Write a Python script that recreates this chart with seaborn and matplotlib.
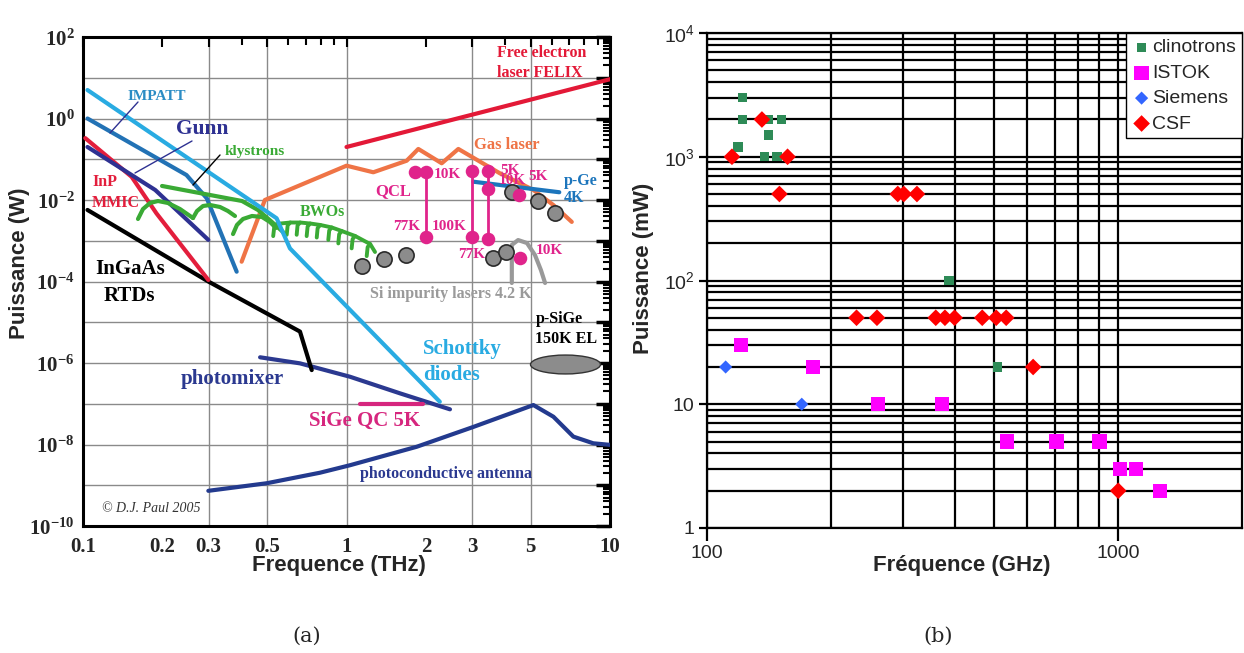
import numpy as np
import matplotlib
matplotlib.use("Agg")
import matplotlib.pyplot as plt
import seaborn as sns
from matplotlib.ticker import FixedLocator, LogLocator, NullFormatter, FuncFormatter
from matplotlib.path import Path
from matplotlib.markers import MarkerStyle

# ---------------- Panel (a): frequency (THz) / power (W) ----------------
schottky_f = [0.104, 0.543, 0.61, 2.26]
schottky_p = [5.0, 3.56e-3, 6.5e-4, 1.12e-7]
impatt_f = [0.104, 0.247, 0.295, 0.383]
impatt_p = [1.0, 0.041, 0.011, 1.74e-4]
gunn_f = [0.104, 0.188, 0.299]
gunn_p = [0.2, 0.0176, 1.05e-3]
inp_f = [0.102, 0.153, 0.19, 0.299]
inp_p = [0.33, 0.037, 4.7e-3, 1.09e-4]
rtd_f = [0.104, 0.299, 0.666, 0.738]
rtd_p = [5.7e-3, 1.0e-4, 5.9e-6, 6.7e-7]
kly_f = [0.1995, 0.2904, 0.4012, 0.4614, 0.5215, 0.5741]
kly_p = [0.0221, 0.0140, 9.45e-3, 5.69e-3, 2.88e-3, 1.64e-3]
kly_arc1_f = [0.1617, 0.1689, 0.1796, 0.1926, 0.2102, 0.2334, 0.2615]
kly_arc1_p = [3.42e-3, 6.0e-3, 8.44e-3, 9.45e-3, 8.44e-3, 6.0e-3, 3.61e-3]
kly_arc2_f = [0.2615, 0.2708, 0.2854, 0.3034, 0.3311, 0.3549, 0.3774]
kly_arc2_p = [3.61e-3, 5.37e-3, 7.12e-3, 7.54e-3, 6.73e-3, 5.37e-3, 4.05e-3]
kly_arc3_f = [0.371, 0.384, 0.4047, 0.4378, 0.4779, 0.5124, 0.5401]
kly_arc3_p = [1.46e-3, 2.44e-3, 3.42e-3, 4.05e-3, 3.83e-3, 2.88e-3, 2.06e-3]
bwo_foot_f = [0.527, 0.593, 0.647, 0.706, 0.771, 0.853, 0.931, 1.046, 1.193]
bwo_foot_p = [1.3e-3, 1.4e-3, 1.4e-3, 1.3e-3, 1.2e-3, 1.05e-3, 8.6e-4, 6.5e-4, 4.2e-4]
bwo_mid_f = [0.532, 0.598, 0.652, 0.712, 0.777, 0.860, 0.938, 1.055, 1.203]
bwo_mid_p = [2.2e-3, 2.4e-3, 2.4e-3, 2.25e-3, 2.05e-3, 1.8e-3, 1.45e-3, 1.1e-3, 7.0e-4]
bwo_top_f = [0.545, 0.612, 0.667, 0.728, 0.795, 0.879, 0.960, 1.078, 1.230]
bwo_top_p = [2.6e-3, 2.8e-3, 2.8e-3, 2.65e-3, 2.44e-3, 2.12e-3, 1.73e-3, 1.31e-3, 8.3e-4]
bwo_end_f = [1.283]
bwo_end_p = [5.3e-4]
felix_f = [1.0, 10.0]
felix_p = [0.2, 9.2]
gas_f = [0.40, 0.49, 1.0, 1.264, 1.692, 1.873, 2.298, 2.657, 3.82, 5.12, 6.1, 7.16]
gas_p = [3.06e-4, 0.01, 0.0695, 0.0479, 0.092, 0.179, 0.0796, 0.179, 0.0452, 0.0176, 7.5e-3, 2.9e-3]
pge_f = [3.03, 6.42]
pge_p = [0.0281, 0.0155]
qcl_f = [1.82, 2.0, 2.0, 2.99, 2.99, 3.45, 3.45, 3.45, 4.53, 4.54]
qcl_p = [0.048, 0.048, 1.26e-3, 0.052, 1.26e-3, 0.052, 0.0183, 1.09e-3, 0.0133, 3.84e-4]
qcl_bar_f = [2.0, 2.99, 3.45]
qcl_bar_hi = [0.048, 0.052, 0.052]
qcl_bar_lo = [1.26e-3, 1.26e-3, 1.09e-3]
si_f = [1.142, 1.388, 1.682, 3.61, 4.03, 4.24, 5.32, 6.18]
si_p = [2.44e-4, 3.5e-4, 4.47e-4, 3.7e-4, 5.2e-4, 0.016, 9.4e-3, 4.7e-3]
si_arc_f = [4.24, 4.24, 4.48, 4.84, 5.19, 5.47, 5.67]
si_arc_p = [9.2e-5, 7.9e-4, 1.04e-3, 8.8e-4, 4.47e-4, 1.9e-4, 9.2e-5]
psige_f = [6.75]
psige_p = [9.3e-7]
photomixer_f = [0.47, 0.666, 1.031, 1.596, 2.47]
photomixer_p = [1.38e-6, 9.8e-7, 4.6e-7, 1.8e-7, 7.3e-8]
sigeqc_f = [1.125, 1.957]
sigeqc_p = [1e-7, 1e-7]
antenna_f = [0.299, 0.498, 0.793, 1.031, 1.847, 3.03, 5.12, 6.1, 7.26, 8.64, 10.0]
antenna_p = [7.3e-10, 1.12e-9, 2.03e-9, 3.1e-9, 8.8e-9, 2.7e-8, 9.3e-8, 4.8e-8, 1.56e-8, 1.07e-8, 9.8e-9]

xticks_a = [0.1, 0.2, 0.3, 0.5, 1, 2, 3, 5, 10]
xtick_labels_a = ["0.1", "0.2", "0.3", "0.5", "1", "2", "3", "5", "10"]
xminor_a = [0.4, 0.6, 0.7, 0.8, 0.9, 4, 6, 7, 8, 9]
xgrid_a = [0.3, 0.5, 1, 3, 5]

# ---------------- Panel (b): frequency (GHz) / power (mW) ----------------
clin_f = [122, 122, 119, 141, 141, 152, 138, 148, 388, 509]
clin_p = [3000, 2000, 1200, 2000, 1500, 2000, 1000, 1000, 100, 20]
istok_f = [121, 181, 260, 373, 536, 708, 900, 1009, 1106, 1262]
istok_p = [30, 20, 10, 10, 5, 5, 5, 3, 3, 2]
siemens_f = [111, 170]
siemens_p = [20, 10]
csf_f = [115, 136, 157, 150, 291, 301, 324, 231, 259, 360, 379, 400, 467, 505, 534, 621, 1000]
csf_p = [1000, 2000, 1000, 500, 500, 500, 500, 50, 50, 50, 50, 50, 50, 50, 50, 20, 2]
legend_b = ["clinotrons", "ISTOK", "Siemens", "CSF"]
xticks_b = [100, 1000]
xgrid_b = [200, 300, 400, 500, 600, 700, 800, 900]

# ---------------- styling ----------------
sns.set_theme(style="white")
plt.rcParams["font.family"] = ["Liberation Sans", "DejaVu Sans"]
plt.rcParams["mathtext.fontset"] = "custom"
plt.rcParams["mathtext.rm"] = "Liberation Sans"
plt.rcParams["mathtext.bf"] = "Liberation Serif:bold"
plt.rcParams["mathtext.it"] = "Liberation Sans:italic"

W, H = 1244, 653
fig = plt.figure(figsize=(W / 100, H / 100), dpi=100)
fig.patch.set_facecolor("white")

axa = fig.add_axes([83 / W, (H - 526) / H, 527 / W, 489 / H])
axb = fig.add_axes([707 / W, (H - 528) / H, 535 / W, 495 / H])

SERIF = "Liberation Serif"
C_SCH = "#29abe2"
C_IMP = "#2272b5"
C_NAVY = "#2e3192"
C_RED = "#e31e3c"
C_GREEN = "#3aaa35"
C_GAS = "#ef7446"
C_MAG = "#e0248b"
C_PGE = "#1c75bc"

axa.set_xscale("log")
axa.set_yscale("log")
axa.set_xlim(0.1, 10)
axa.set_ylim(1e-10, 1e2)


def line(ax, f, p, color, lw=3.0, z=3):
    sns.lineplot(x=f, y=p, ax=ax, color=color, linewidth=lw, sort=False,
                 estimator=None, legend=False, zorder=z)


line(axa, antenna_f, antenna_p, "#233a8e")
line(axa, photomixer_f, photomixer_p, "#2b3990")
line(axa, sigeqc_f, sigeqc_p, "#d6267e")
line(axa, felix_f, felix_p, "#e31937")
line(axa, gas_f, gas_p, C_GAS)
line(axa, rtd_f, rtd_p, "black")
line(axa, inp_f, inp_p, C_RED)
line(axa, gunn_f, gunn_p, C_NAVY)
line(axa, impatt_f, impatt_p, C_IMP)
line(axa, kly_f, kly_p, C_GREEN)
for af, ap in [(kly_arc1_f, kly_arc1_p), (kly_arc2_f, kly_arc2_p), (kly_arc3_f, kly_arc3_p)]:
    line(axa, af, ap, C_GREEN)
next_f = bwo_top_f[1:] + bwo_end_f
next_p = bwo_top_p[1:] + bwo_end_p
for i in range(len(bwo_foot_f)):
    line(axa, [bwo_foot_f[i], bwo_mid_f[i], bwo_top_f[i], next_f[i]],
         [bwo_foot_p[i], bwo_mid_p[i], bwo_top_p[i], next_p[i]], C_GREEN, lw=2.8)
line(axa, schottky_f, schottky_p, C_SCH, z=3.5)
line(axa, pge_f, pge_p, C_PGE)
line(axa, si_arc_f, si_arc_p, "#999999", lw=3)

for bf, bh, bl in zip(qcl_bar_f, qcl_bar_hi, qcl_bar_lo):
    line(axa, [bf, bf], [bh, bl], C_MAG, lw=2, z=4)

sns.scatterplot(x=si_f, y=si_p, ax=axa, s=120, color="#8c8c8c",
                edgecolor="#2a2a2a", linewidth=1.2, zorder=5, legend=False)
sns.scatterplot(x=qcl_f, y=qcl_p, ax=axa, s=95, color=C_MAG,
                edgecolor=C_MAG, linewidth=0, zorder=6, legend=False)
circ = Path.unit_circle()
ell = Path(circ.vertices * np.array([1.0, 0.27]), circ.codes)
sns.scatterplot(x=psige_f, y=psige_p, ax=axa, s=2540, marker=MarkerStyle(ell),
                color="#8c8c8c", edgecolor="#333333", linewidth=1.0, zorder=5,
                legend=False)

for gx in xgrid_a:
    axa.axvline(gx, color="#8a8a8a", lw=1.0, zorder=0.5)
axa.yaxis.set_major_locator(LogLocator(base=10, numticks=30))
axa.yaxis.set_minor_locator(LogLocator(base=10, subs=np.arange(2, 10), numticks=30))
axa.yaxis.set_minor_formatter(NullFormatter())


def ylab_a(v, pos):
    e = int(round(np.log10(v)))
    if e % 2:
        return ""
    return r"$\mathbf{10^{%d}}$" % e


axa.yaxis.set_major_formatter(FuncFormatter(ylab_a))
axa.grid(axis="y", which="major", color="#8a8a8a", lw=1.0, zorder=0.5)
axa.grid(axis="x", which="both", visible=False)
axa.xaxis.set_major_locator(FixedLocator(xticks_a))
axa.xaxis.set_minor_locator(FixedLocator(xminor_a))
axa.xaxis.set_minor_formatter(NullFormatter())
axa.set_xticklabels(xtick_labels_a, fontfamily=SERIF, fontweight="bold", fontsize=15)
for t in axa.get_yticklabels():
    t.set_fontsize(15)
axa.tick_params(axis="both", which="both", direction="in", top=True, right=True,
                color="black")
axa.tick_params(axis="x", which="major", length=7, width=1.5, pad=8)
axa.tick_params(axis="x", which="minor", length=6, width=1.5)
axa.tick_params(axis="y", which="major", length=10, width=2.5, pad=6)
axa.tick_params(axis="y", which="minor", length=5, width=1.5)
for s in axa.spines.values():
    s.set_color("black")
    s.set_linewidth(2.2)
axa.set_xlabel("")
axa.set_ylabel("")


def ta(px, py, txt, color, size, ha="center", style="normal", weight="bold", family=SERIF):
    axa.text((px - 83) / 527, (526 - py) / 489, txt, transform=axa.transAxes,
             color=color, fontsize=size, ha=ha, va="center", fontfamily=family,
             fontweight=weight, fontstyle=style, zorder=8)


def pointer(x0, y0, x1, y1, color):
    axa.annotate("", xy=((x1 - 83) / 527, (526 - y1) / 489),
                 xytext=((x0 - 83) / 527, (526 - y0) / 489),
                 xycoords="axes fraction", textcoords="axes fraction",
                 arrowprops=dict(arrowstyle="-", color=color, lw=1.0, shrinkA=0, shrinkB=0),
                 zorder=7)


ta(157, 96, "IMPATT", "#2b8cc4", 11)
pointer(138, 102, 110, 133, C_NAVY)
ta(202, 129, "Gunn", C_NAVY, 15.5)
pointer(192, 141, 135, 173, C_NAVY)
ta(255, 152, "klystrons", C_GREEN, 11)
pointer(220, 155, 193, 185, "black")
ta(92, 182, "InP", C_RED, 11.5, ha="left")
ta(92, 203, "MMIC", C_RED, 11.5, ha="left")
ta(322, 212, "BWOs", C_GREEN, 11.5)
ta(130, 269, "InGaAs", "black", 15)
ta(129, 296, "RTDs", "black", 15)
ta(232, 379, "photomixer", "#2b3990", 15)
ta(423, 349, "Schottky", C_SCH, 15, ha="left")
ta(423, 375, "diodes", C_SCH, 15, ha="left")
ta(365, 421, "SiGe QC 5K", "#d6267e", 15)
ta(446, 474, "photoconductive antenna", "#2b3990", 11.5)
ta(151, 508, "\u00a9 D.J. Paul 2005", "#333333", 10, style="italic", weight="normal")
ta(497, 53, "Free electron", "#e31937", 11.5, ha="left")
ta(497, 73, "laser FELIX", "#e31937", 11.5, ha="left")
ta(507, 145, "Gas laser", C_GAS, 12)
ta(564, 181, "p-Ge", C_PGE, 11.5, ha="left")
ta(564, 198, "4K", C_PGE, 11.5, ha="left")
ta(393, 191, "QCL", C_MAG, 12)
for (px, py, t) in [(447, 174, "10K"), (407, 227, "77K"), (449, 226, "100K"),
                    (472, 254, "77K"), (510, 170, "5K"), (512, 181, "10K"),
                    (538, 176, "5K"), (549, 251, "10K")]:
    ta(px, py, t, C_MAG, 11)
ta(451, 294, "Si impurity lasers 4.2 K", "#9a9a9a", 11.5)
ta(559, 319, "p-SiGe", "black", 11.5)
ta(566, 339, "150K EL", "black", 11.5)

fig.text(20 / W, 1 - 263 / H, "Puissance (W)", rotation=90, ha="center", va="center",
         fontsize=16, fontweight="bold", fontfamily="Liberation Sans")
fig.text(339 / W, 1 - 566 / H, "Frequence (THz)", ha="center", va="center",
         fontsize=16, fontweight="bold", fontfamily="Liberation Sans")

# ---------------- Panel (b) ----------------
axb.set_xscale("log")
axb.set_yscale("log")
axb.set_xlim(100, 2000)
axb.set_ylim(1, 1e4)
sns.scatterplot(x=clin_f, y=clin_p, ax=axb, marker="s", s=45, color="#2e8b57",
                edgecolor="none", label=legend_b[0], zorder=4)
sns.scatterplot(x=istok_f, y=istok_p, ax=axb, marker="s", s=105, color="#ff00ff",
                edgecolor="none", label=legend_b[1], zorder=4)
sns.scatterplot(x=siemens_f, y=siemens_p, ax=axb, marker="D", s=45, color="#3366ff",
                edgecolor="none", label=legend_b[2], zorder=4)
sns.scatterplot(x=csf_f, y=csf_p, ax=axb, marker="D", s=72, color="#ff0000",
                edgecolor="none", label=legend_b[3], zorder=5)

axb.xaxis.set_major_locator(FixedLocator(xticks_b))
axb.xaxis.set_minor_locator(FixedLocator(xgrid_b))
axb.xaxis.set_minor_formatter(NullFormatter())
axb.set_xticklabels([str(v) for v in xticks_b], fontsize=14)
axb.yaxis.set_major_locator(LogLocator(base=10, numticks=10))
axb.yaxis.set_minor_locator(LogLocator(base=10, subs=np.arange(2, 10), numticks=20))
axb.yaxis.set_minor_formatter(NullFormatter())


def ylab_b(v, pos):
    e = int(round(np.log10(v)))
    if e == 0:
        return "1"
    if e == 1:
        return "10"
    return r"$\mathregular{10^{%d}}$" % e


axb.yaxis.set_major_formatter(FuncFormatter(ylab_b))
for t in axb.get_yticklabels():
    t.set_fontsize(14)
axb.grid(axis="both", which="both", color="black", lw=1.6, zorder=0.5)
axb.tick_params(axis="x", which="major", direction="out", length=9, width=1.6,
                color="black", pad=3, bottom=True)
axb.tick_params(axis="y", which="major", direction="out", length=6, width=1.6,
                color="black", pad=3, left=True)
axb.tick_params(axis="both", which="minor", length=0)
for s in axb.spines.values():
    s.set_color("black")
    s.set_linewidth(1.6)
axb.set_xlabel("")
axb.set_ylabel("")
leg = axb.legend(loc="upper right", borderaxespad=0, frameon=True,
                 fancybox=False, edgecolor="black", framealpha=1,
                 fontsize=14, handletextpad=0.05, handlelength=1.0,
                 labelspacing=0.4, borderpad=0.3)
leg.get_frame().set_linewidth(1.0)
leg.set_zorder(10)

fig.text(643 / W, 1 - 268 / H, "Puissance (mW)", rotation=90, ha="center", va="center",
         fontsize=16, fontweight="bold", fontfamily="Liberation Sans")
fig.text(962 / W, 1 - 565 / H, "Fr\u00e9quence (GHz)", ha="center", va="center",
         fontsize=16, fontweight="bold", fontfamily="Liberation Sans")

fig.text(307 / W, 1 - 636 / H, "(a)", ha="center", va="center", fontsize=15,
         fontfamily="DejaVu Serif")
fig.text(938 / W, 1 - 636 / H, "(b)", ha="center", va="center", fontsize=15,
         fontfamily="DejaVu Serif")

fig.savefig("out.png", dpi=100, facecolor="white")
